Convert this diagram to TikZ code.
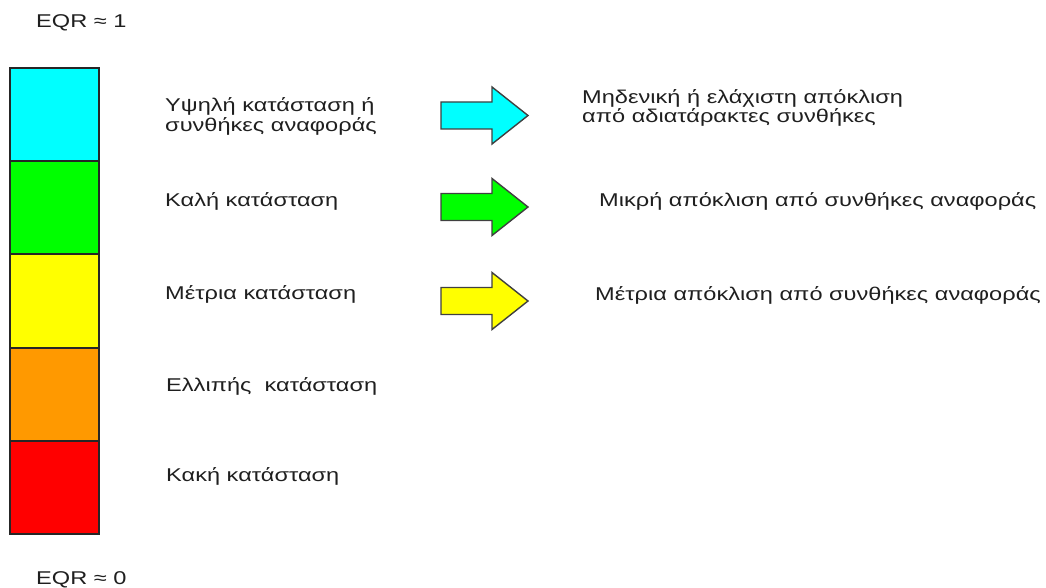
\documentclass[tikz,border=0pt]{standalone}
\usepackage{fontspec}
\setmainfont[FakeStretch=1.275]{Liberation Sans}
\begin{document}
\begin{tikzpicture}[x=1pt,y=-1pt,
  lbl/.style={anchor=base west,inner sep=0pt,font=\fontsize{18.5}{19.5}\selectfont,text=black!88,align=left},
  seg/.style={draw=black!85,line width=2pt},
  blockarrow/.style={draw=black!75,line width=1.4pt,line join=miter}]
\useasboundingbox (0,0) rectangle (1046,588);
% colour bar
\definecolor{cCyan}{HTML}{00FFFF}
\definecolor{cGreen}{HTML}{00FF00}
\definecolor{cYellow}{HTML}{FFFF00}
\definecolor{cOrange}{HTML}{FF9900}
\definecolor{cRed}{HTML}{FF0000}
\path[seg,fill=cCyan]   (10,68)    rectangle (99,161.2);
\path[seg,fill=cGreen]  (10,161.2) rectangle (99,254.4);
\path[seg,fill=cYellow] (10,254.4) rectangle (99,347.6);
\path[seg,fill=cOrange] (10,347.6) rectangle (99,440.8);
\path[seg,fill=cRed]    (10,440.8) rectangle (99,534);
% EQR labels
\node[lbl] (eqr1) at (36,28) {EQR ≈ 1};
\node[lbl] (eqr0) at (36,584) {EQR ≈ 0};
% left labels (base anchor = baseline of last line)
\node[lbl] (l1) at (165,131.7) {Υψηλή κατάσταση ή\\[0.5pt]συνθήκες αναφοράς};
\node[lbl] (l2) at (165,207) {Καλή κατάσταση};
\node[lbl] (l3) at (165,299.5) {Μέτρια κατάσταση};
\node[lbl] (l4) at (166,391.5) {Ελλιπής~ κατάσταση};
\node[lbl] (l5) at (166,481.5) {Κακή κατάσταση};
% block arrows
\foreach \yc/\col in {115.5/cCyan, 207/cGreen, 301/cYellow}{
  \draw[blockarrow,fill=\col] (441,\yc-13.5) -- (492,\yc-13.5) -- (492,\yc-28.5)
    -- (528,\yc) -- (492,\yc+28.5) -- (492,\yc+13.5) -- (441,\yc+13.5) -- cycle;
}
% right labels
\node[lbl] (r1) at (582,122.7) {Μηδενική ή ελάχιστη απόκλιση\\[-0.5pt]από αδιατάρακτες συνθήκες};
\node[lbl] (r2) at (599,206.5) {Μικρή απόκλιση από συνθήκες αναφοράς};
\node[lbl] (r3) at (595,300) {Μέτρια απόκλιση από συνθήκες αναφοράς};
\end{tikzpicture}
\end{document}
